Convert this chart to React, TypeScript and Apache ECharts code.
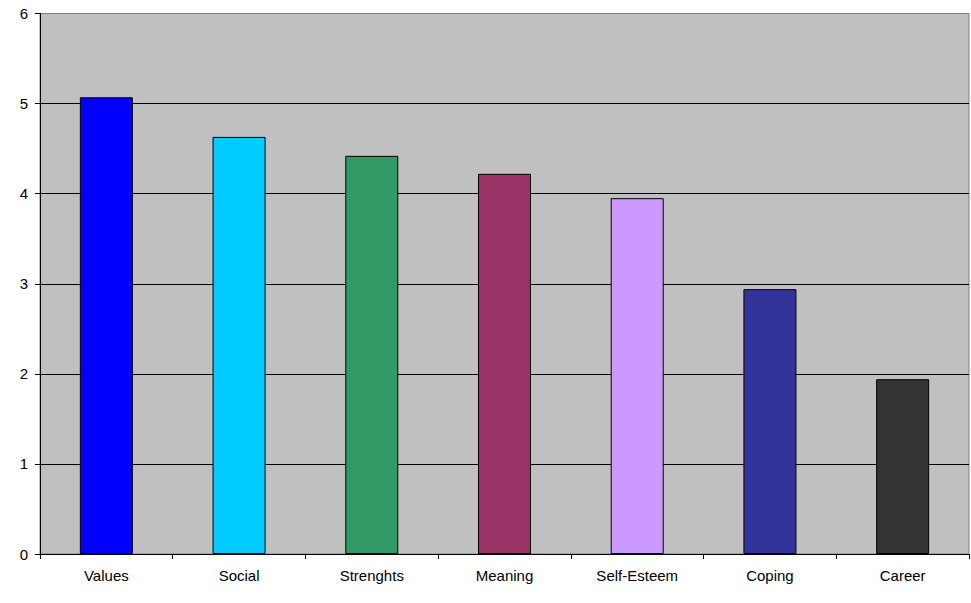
import React, { useEffect, useRef } from "react";
import * as echarts from "echarts";

const categories = ["Values", "Social", "Strenghts", "Meaning", "Self-Esteem", "Coping", "Career"];
const values = [5.07, 4.63, 4.42, 4.22, 3.95, 2.94, 1.94];
const barColors = ["#0000ff", "#00ccff", "#339966", "#993366", "#cc99ff", "#333399", "#333333"];
const yTicks = [0, 1, 2, 3, 4, 5, 6];

export default function App() {
  const ref = useRef<HTMLDivElement>(null);
  useEffect(() => {
    if (!ref.current) return;
    const chart = echarts.init(ref.current, undefined, { renderer: "svg" });
    chart.setOption({
      animation: false,
      backgroundColor: "#ffffff",
      textStyle: { fontFamily: "Liberation Sans, Arial, sans-serif" },
      grid: {
        left: 40,
        top: 13.5,
        right: 2,
        bottom: 49,
        show: true,
        backgroundColor: "#c0c0c0",
        borderColor: "#808080",
        borderWidth: 1,
      },
      xAxis: {
        type: "category",
        data: categories,
        boundaryGap: true,
        axisLine: { show: true, lineStyle: { color: "#000", width: 1 } },
        axisTick: { show: true, length: 5, alignWithLabel: false, lineStyle: { color: "#000" } },
        axisLabel: { color: "#000", fontSize: 15, margin: 14 },
        splitLine: { show: false },
      },
      yAxis: {
        type: "value",
        min: yTicks[0],
        max: yTicks[yTicks.length - 1],
        interval: 1,
        axisLine: { show: true, lineStyle: { color: "#000", width: 1 } },
        axisTick: { show: true, length: 5, lineStyle: { color: "#000" } },
        axisLabel: { color: "#000", fontSize: 15, margin: 12 },
        splitLine: { show: true, showMaxLine: false, lineStyle: { color: "#000", width: 1 } },
      },
      series: [
        {
          type: "bar",
          barWidth: 53,
          data: values.map((v, i) => ({
            value: v,
            itemStyle: { color: barColors[i], borderColor: "#000", borderWidth: 1 },
          })),
        },
      ],
    });
    return () => chart.dispose();
  }, []);
  return (
    <div
      ref={ref}
      style={{ position: "fixed", left: 0, top: 0, width: 971, height: 603 }}
    />
  );
}
